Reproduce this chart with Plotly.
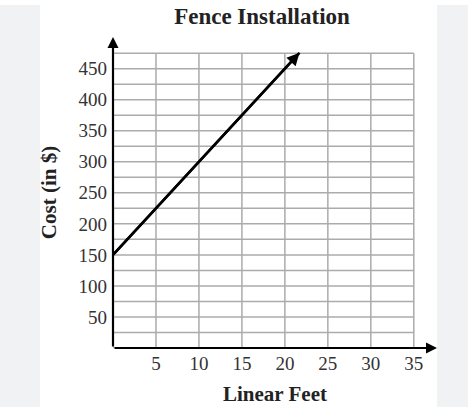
import plotly.graph_objects as go

# Data
line_x = [0, 21.7]
line_y = [150, 475.5]
x_ticks = [5, 10, 15, 20, 25, 30, 35]
y_ticks = [50, 100, 150, 200, 250, 300, 350, 400, 450]
grid_x = [0, 5, 10, 15, 20, 25, 30, 35]
grid_y = [0, 25, 50, 75, 100, 125, 150, 175, 200, 225, 250, 275, 300, 325, 350, 375, 400, 425, 450, 475]
x_max_grid = 35
y_max_grid = 475
x_arrow_end = 37.7
y_arrow_end = 501

W, H = 468, 407
L, R, T, B = 113, 31, 37, 59
SERIF = "Liberation Serif, Times New Roman, serif"

fig = go.Figure()

pw = W - L - R
ph = H - T - B


def px_x(p):
    return (p - L) / pw


def px_y(p):
    return (H - B - p) / ph


shapes = []
# white page panel over gray background (paper coords)
shapes.append(dict(type="rect", xref="paper", yref="paper",
                   x0=px_x(40), x1=px_x(437), y0=px_y(408), y1=px_y(-1),
                   fillcolor="white", line_width=0, layer="below"))
shapes.append(dict(type="rect", xref="paper", yref="paper",
                   x0=px_x(-1), x1=px_x(W + 1), y0=px_y(5), y1=px_y(-1),
                   fillcolor="white", line_width=0, layer="below"))
for gx in grid_x:
    shapes.append(dict(type="line", xref="x", yref="y", x0=gx, x1=gx, y0=0, y1=y_max_grid,
                       line=dict(color="#ababab", width=1.5), layer="below"))
for gy in grid_y:
    shapes.append(dict(type="line", xref="x", yref="y", x0=0, x1=x_max_grid, y0=gy, y1=gy,
                       line=dict(color="#ababab", width=1.5), layer="below"))

fig.add_trace(go.Scatter(x=line_x, y=line_y, mode="lines",
                         line=dict(color="black", width=2.5), showlegend=False,
                         hoverinfo="skip", cliponaxis=False))

annotations = [
    # axis arrows
    dict(x=x_arrow_end, y=0, ax=0, ay=0, xref="x", yref="y", axref="x", ayref="y",
         showarrow=True, arrowhead=2, arrowsize=1, arrowwidth=2.2, arrowcolor="black", text=""),
    dict(x=0, y=y_arrow_end, ax=0, ay=0, xref="x", yref="y", axref="x", ayref="y",
         showarrow=True, arrowhead=2, arrowsize=1, arrowwidth=2.2, arrowcolor="black", text=""),
    # line arrowhead
    dict(x=line_x[1], y=line_y[1], ax=line_x[0], ay=line_y[0], xref="x", yref="y",
         axref="x", ayref="y", showarrow=True, arrowhead=2, arrowsize=1,
         arrowwidth=2.5, arrowcolor="black", text=""),
]

fig.update_layout(
    width=W, height=H,
    margin=dict(l=L, r=R, t=T, b=B, autoexpand=False),
    paper_bgcolor="#f1f2f4",
    plot_bgcolor="rgba(0,0,0,0)",
    shapes=shapes,
    annotations=annotations,
    title=dict(text="<b>Fence Installation</b>", x=262 / W, xanchor="center",
               y=1 - 16 / H, yanchor="middle",
               font=dict(family=SERIF, size=23, color="#222")),
    xaxis=dict(range=[0, x_arrow_end], tickvals=x_ticks, ticktext=[str(v) for v in x_ticks],
               showgrid=False, zeroline=False, showline=False, ticks="", automargin=False,
               ticklabelstandoff=2,
               tickfont=dict(family=SERIF, size=19, color="#333"),
               title=dict(text="<b>Linear Feet</b>", font=dict(family=SERIF, size=21, color="#222"),
                          standoff=13),
               fixedrange=True),
    yaxis=dict(range=[0, y_arrow_end], tickvals=y_ticks, ticktext=[str(v) for v in y_ticks],
               showgrid=False, zeroline=False, showline=False, ticks="", automargin=False,
               ticklabelstandoff=5,
               tickfont=dict(family=SERIF, size=19, color="#333"),
               title=dict(text="<b>Cost (in $)</b>", font=dict(family=SERIF, size=21, color="#222"),
                          standoff=16),
               fixedrange=True),
)

fig.write_html("out.html", config={"displayModeBar": False},
               post_script="document.body.style.margin='0';document.body.style.padding='0';")
